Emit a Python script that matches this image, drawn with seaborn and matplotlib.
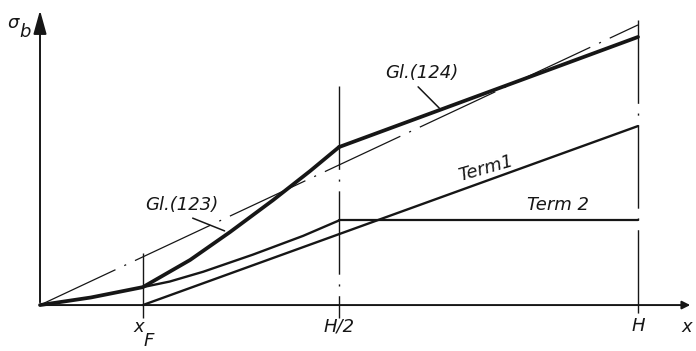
import pandas as pd
import matplotlib
matplotlib.use("Agg")
import matplotlib.pyplot as plt
import seaborn as sns

# ---- Data (x in units of H, y normalised to the dash-dot line at H) ----
X_F, H2, H = 0.172, 0.5, 1.0

gl123_x = [0.0, 0.085, X_F, 0.251, 0.318, 0.390, 0.452, H2]
gl123_y = [0.0, 0.027, 0.064, 0.161, 0.261, 0.375, 0.479, 0.564]

gl124_x = [H2, H]
gl124_y = [0.564, 0.957]

ref_x = [0.0, H]
ref_y = [0.0, 1.0]

sum_x = [X_F, 0.217, 0.273, 0.356, 0.440, H2]
sum_y = [0.064, 0.084, 0.119, 0.180, 0.247, 0.302]

term1_x = [X_F, H]
term1_y = [0.0, 0.639]

term2_x = [H2, H]
term2_y = [0.302, 0.302]

vline_x = [X_F, H2, H]
vline_top = [0.186, 0.782, 1.018]
vline_bottom = -0.046

tick_labels = ["H/2", "H"]

# ---- Style ----
sns.set_style("white")
plt.rcParams["font.family"] = ["Liberation Sans Narrow", "DejaVu Sans"]
plt.rcParams["font.style"] = "italic"
plt.rcParams["lines.scale_dashes"] = False
ink = "#161616"

fig = plt.figure(figsize=(6.96, 3.51), dpi=100)
ax = fig.add_axes([0, 0, 1, 1])
ax.set_xlim(-0.0669, 1.097)
ax.set_ylim(-0.164, 1.089)
ax.axis("off")

def line(xs, ys, lw, ls="-"):
    df = pd.DataFrame({"x": xs, "y": ys})
    sns.lineplot(data=df, x="x", y="y", ax=ax, color=ink, lw=lw, linestyle=ls,
                 estimator=None, sort=False)

dashdot = (0, (60, 7, 1.5, 7))

# thin dash-dot reference line
line(ref_x, ref_y, 0.9, dashdot)

# vertical dash-dot guides
for vx, vt in zip(vline_x, vline_top):
    line([vx, vx], [vt, vline_bottom], 1.0, dashdot)

# curves
line(term1_x, term1_y, 1.7)
line(term2_x, term2_y, 1.6)
line(sum_x, sum_y, 1.7)
line(gl123_x, gl123_y, 2.7)
line(gl124_x, gl124_y, 2.7)

# axes with arrows
ax.annotate("", xy=(0, 1.062), xytext=(0, 0),
            arrowprops=dict(arrowstyle="-|>,head_width=0.25,head_length=0.9",
                            color=ink, lw=1.4, mutation_scale=16))
ax.annotate("", xy=(1.092, 0), xytext=(0, 0),
            arrowprops=dict(arrowstyle="-|>", color=ink, lw=1.4, mutation_scale=12))

# leaders
ax.annotate("", xy=(0.313, 0.261), xytext=(0.251, 0.314),
            arrowprops=dict(arrowstyle="-", color=ink, lw=1.1))
ax.annotate("", xy=(0.671, 0.696), xytext=(0.629, 0.786),
            arrowprops=dict(arrowstyle="-", color=ink, lw=1.1))

fs = 13
kw = dict(ha="center", va="center", color=ink, fontsize=fs)
ax.text(-0.045, 1.007, "σ", **kw)
ax.text(-0.025, 0.975, "b", **kw)
ax.text(0.166, -0.079, "x", **kw)
ax.text(0.181, -0.129, "F", **kw)
ax.text(H2, -0.075, tick_labels[0], **kw)
ax.text(H, -0.075, tick_labels[1], **kw)
ax.text(1.082, -0.079, "x", **kw)
ax.text(0.237, 0.357, "Gl.(123)", **kw)
ax.text(0.639, 0.829, "Gl.(124)", **kw)
ax.text(0.746, 0.489, "Term1", rotation=16, **kw)
ax.text(0.866, 0.357, "Term 2", **kw)

fig.savefig("out.png", dpi=100, facecolor="white")
